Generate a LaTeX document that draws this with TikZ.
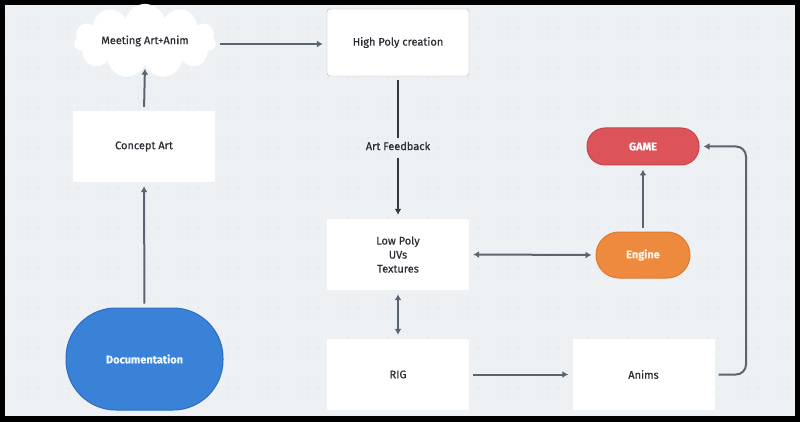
\documentclass[tikz,border=0pt]{standalone}
\usepackage{fontspec}
\setmainfont{Fira Sans}[FakeBold=0.5]
\usetikzlibrary{arrows.meta}
\usetikzlibrary{shapes.symbols}

\definecolor{panelbg}{HTML}{EEF1F4}
\definecolor{dotgray}{HTML}{D3D9E0}
\definecolor{linegray}{HTML}{5B6570}
\definecolor{darkline}{HTML}{34393F}
\definecolor{txt}{HTML}{2A2E34}
\definecolor{gamered}{HTML}{DC5359}
\definecolor{gameedge}{HTML}{C8444B}
\definecolor{engorange}{HTML}{EE8A3D}
\definecolor{engedge}{HTML}{DD7A2E}
\definecolor{docblue}{HTML}{3A82D8}
\definecolor{docedge}{HTML}{2E6DBE}

\begin{document}
\begin{tikzpicture}[x=1pt,y=-1pt,
    font=\fontsize{11}{14}\selectfont, text=txt,
    box/.style={fill=white, minimum width=142pt, minimum height=71pt, align=center},
    pill/.style={rounded corners=18pt, text=white, font=\fontsize{11}{14}\selectfont\bfseries},
    arr/.style={draw=linegray, line width=2pt, -{Latex[length=6pt,width=7pt]}, shorten >=4pt, shorten <=4pt},
    dbl/.style={arr, {Latex[length=6pt,width=7pt]}-{Latex[length=6pt,width=7pt]}}]
    % frame and dotted canvas
    \fill[black] (0,0) rectangle (800,422);
    \fill[panelbg] (5,5) rectangle (795,416);
    \begin{scope}
      \clip (5,5) rectangle (795,416);
      \foreach \i in {0,...,79}
        \foreach \j in {0,...,41}
          \fill[dotgray] (10*\i+8,10*\j+8) circle (0.7);
    \end{scope}

    % nodes
    \node[shape=cloud, cloud puffs=11, aspect=2.5, fill=white, inner sep=0pt,
          minimum width=142pt, minimum height=60pt] (meet) at (145,41) {Meeting Art+Anim};
    \node[box, draw=gray!60, rounded corners=3pt, minimum height=67pt] (hp) at (398,42.5) {High Poly creation};
    \node[box] (concept) at (144,146.5) {Concept Art};
    \node[fill=docblue, draw=docedge, line width=1pt, rounded corners=50pt,
          minimum width=157pt, minimum height=102pt, text=cyan!8,
          font=\fontsize{11}{14}\selectfont\bfseries] (doc) at (144.5,359) {Documentation};
    \node (fbk) at (398,146) {Art Feedback};
    \node[box] (low) at (398,254.5) {Low Poly\\UVs\\Textures};
    \node[box] (rig) at (398,374.5) {RIG};
    \node[box] (anims) at (643.5,374.5) {Anims};
    \node[pill, fill=engorange, draw=engedge, line width=1pt, rounded corners=23pt,
          minimum width=94pt, minimum height=46pt, text=orange!10] (engine) at (643,255) {Engine};
    \node[pill, fill=gamered, draw=gameedge, line width=1pt,
          minimum width=112pt, minimum height=37pt] (game) at (643,146.5) {GAME};
    \coordinate (turn) at (746,146.5);

    % connectors
    \draw[arr] (doc.north) -- (concept.south);
    \draw[arr] (concept.north) -- (meet.south);
    \draw[arr] ([yshift=-3pt]meet.east) -- ([yshift=-3pt]meet.east -| hp.west);
    \draw[darkline, line width=2pt, shorten <=4pt] (hp.south) -- (fbk);
    \draw[arr, draw=darkline] (fbk) -- (low.north);
    \draw[dbl] (low.south) -- (rig.north);
    \draw[dbl] (low.east) -- (engine.west);
    \draw[arr] (rig.east) -- (anims.west);
    \draw[arr] (engine.north) -- (game.south);
    \draw[arr, rounded corners=10pt] (anims.east) -| (turn) -- (game.east);
\end{tikzpicture}
\end{document}
